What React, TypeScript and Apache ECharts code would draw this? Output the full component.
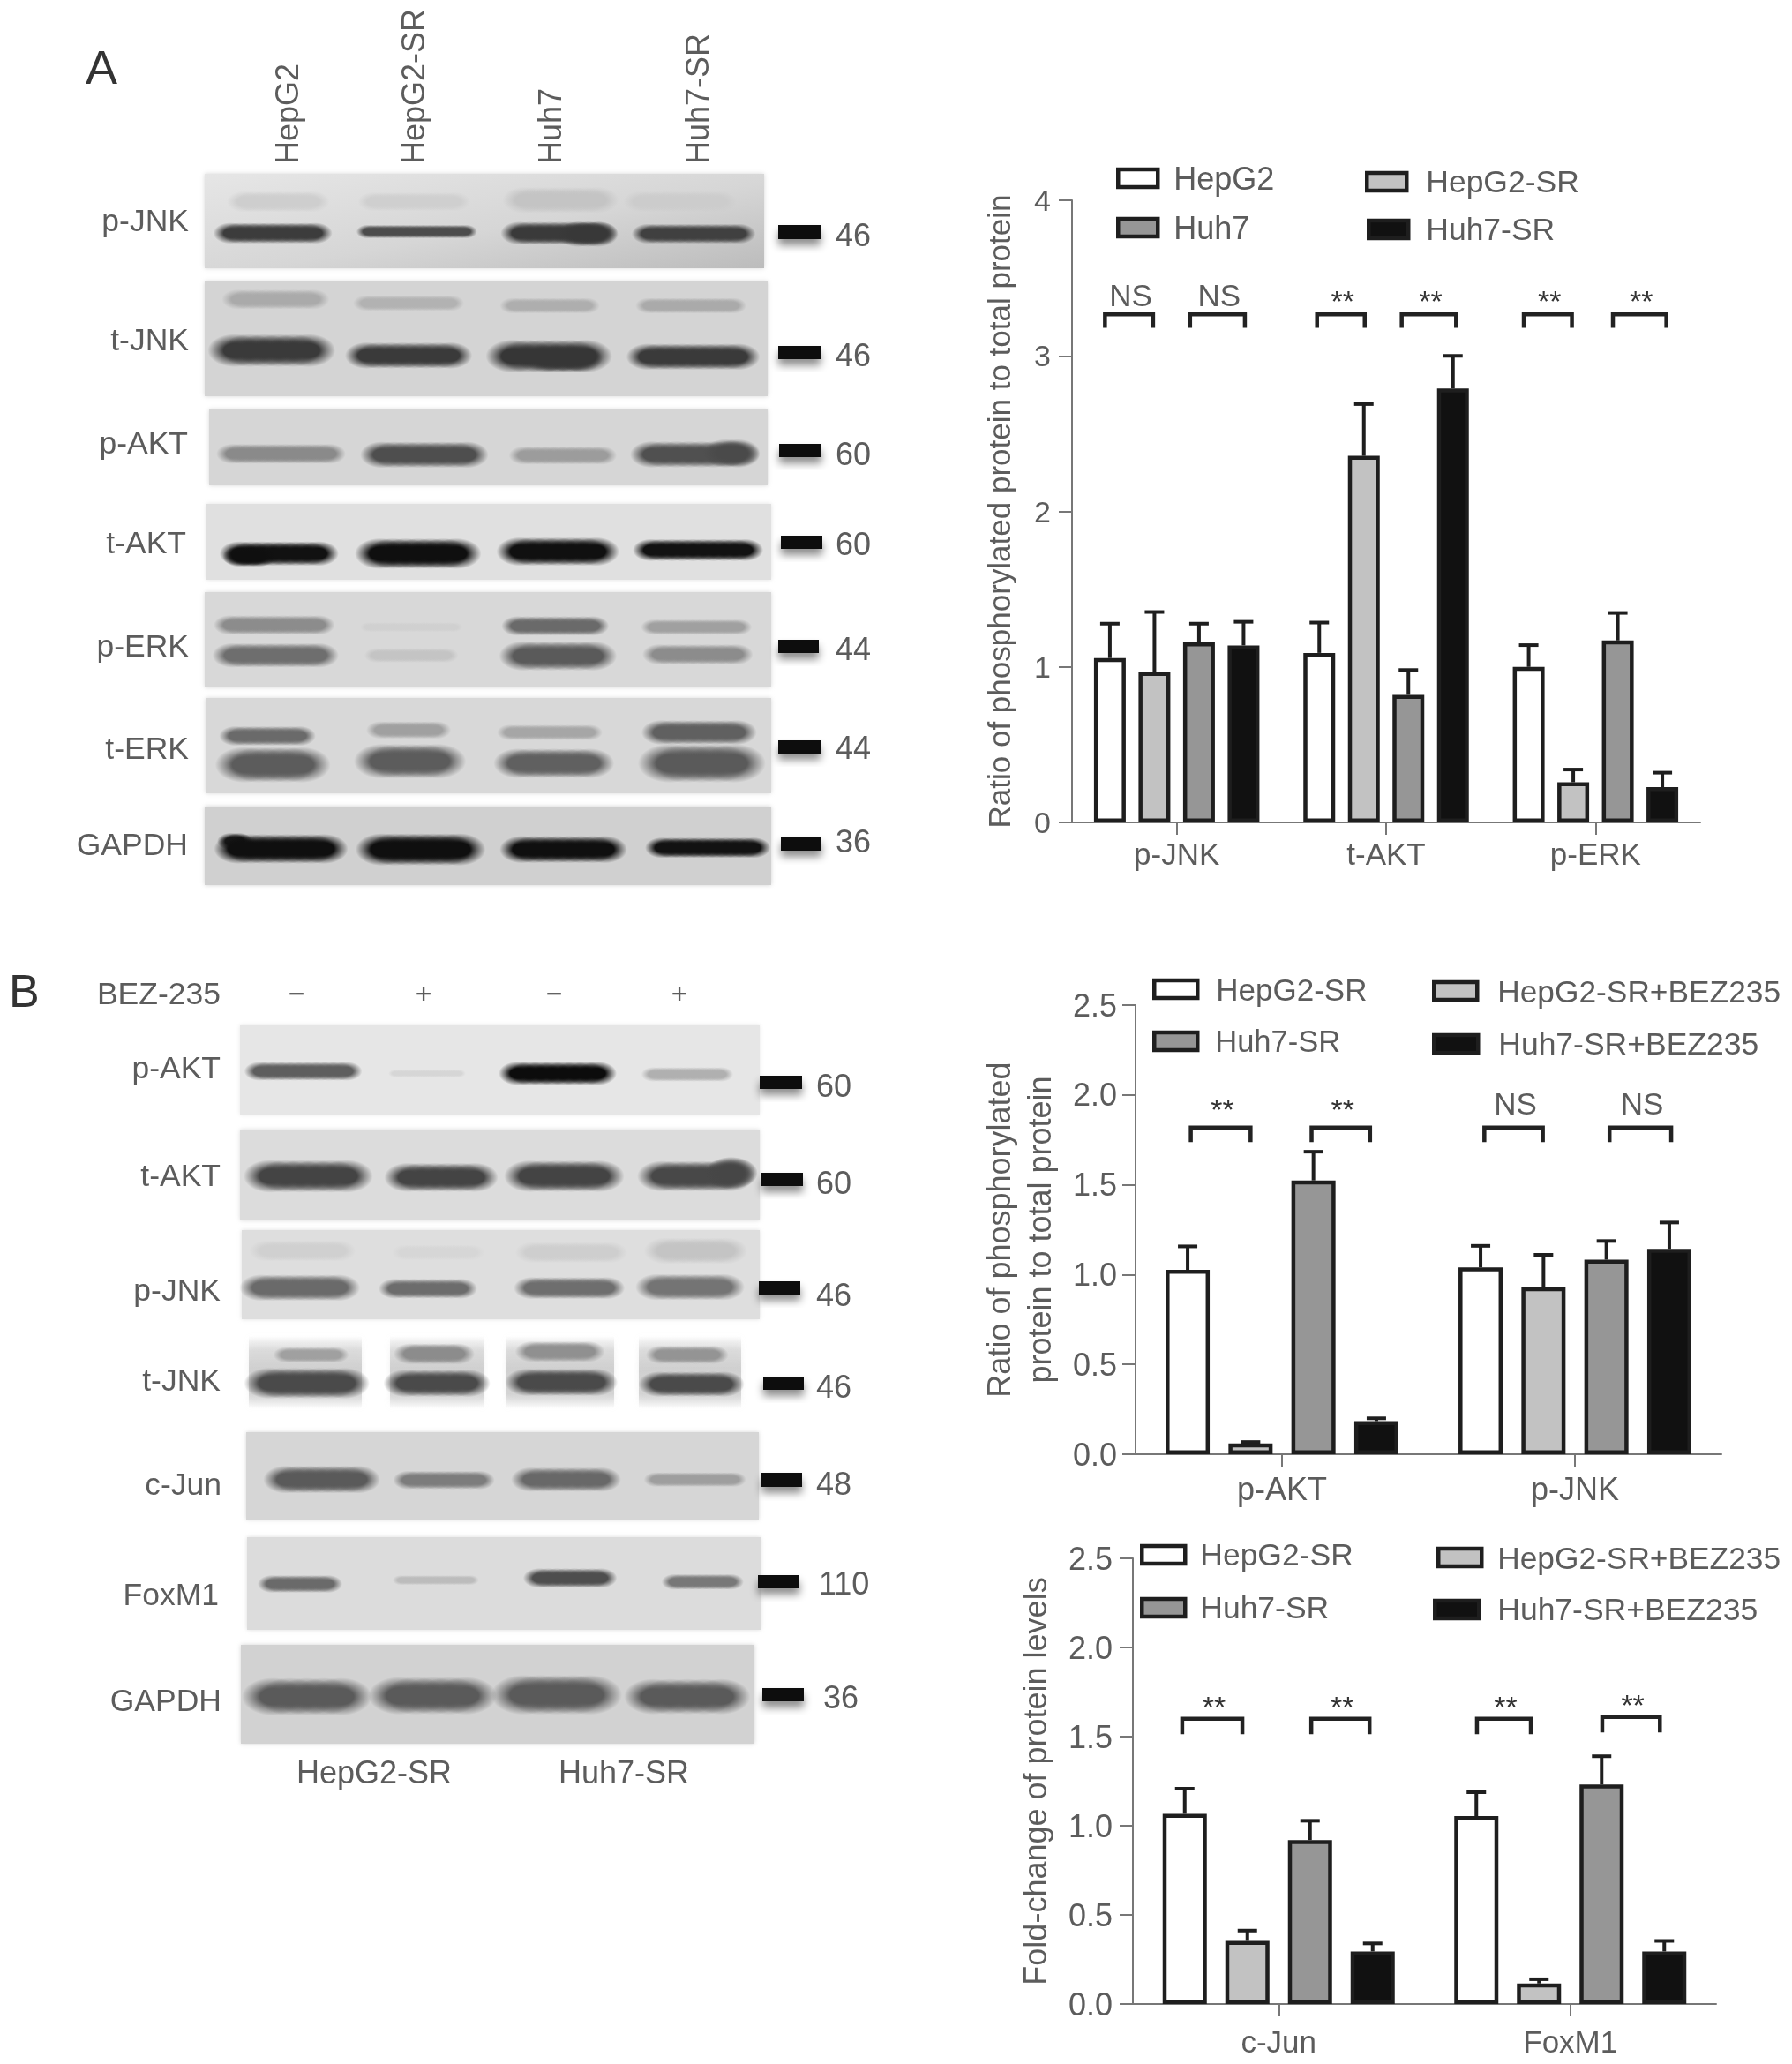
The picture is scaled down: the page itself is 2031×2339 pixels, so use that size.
import React, { useEffect, useRef } from "react";
import * as echarts from "echarts";

// ---- chart A values
const catsA = ["p-JNK", "t-AKT", "p-ERK"];
const namesA = ["HepG2", "HepG2-SR", "Huh7", "Huh7-SR"];
const hepG2A = [1.057, 1.09, 1.0];
const hepG2SrA = [0.967, 2.357, 0.258];
const huh7A = [1.157, 0.82, 1.17];
const huh7SrA = [1.138, 2.79, 0.227];
const hepG2ErrA = [1.278, 1.285, 1.14];
const hepG2SrErrA = [1.353, 2.69, 0.34];
const huh7ErrA = [1.278, 0.98, 1.347];
const huh7SrErrA = [1.29, 3.0, 0.32];

// ---- chart B1 values
const catsB1 = ["p-AKT", "p-JNK"];
const namesB = ["HepG2-SR", "HepG2-SR+BEZ235", "Huh7-SR", "Huh7-SR+BEZ235"];
const hepSrB1 = [1.026, 1.04];
const hepBezB1 = [0.06, 0.93];
const huhSrB1 = [1.524, 1.083];
const huhBezB1 = [0.184, 1.143];
const hepSrErrB1 = [1.157, 1.16];
const hepBezErrB1 = [0.068, 1.11];
const huhSrErrB1 = [1.684, 1.187];
const huhBezErrB1 = [0.2, 1.29];

// ---- chart B2 values
const catsB2 = ["c-Jun", "FoxM1"];
const hepSrB2 = [1.067, 1.054];
const hepBezB2 = [0.354, 0.115];
const huhSrB2 = [0.92, 1.231];
const huhBezB2 = [0.295, 0.295];
const hepSrErrB2 = [1.208, 1.188];
const hepBezErrB2 = [0.412, 0.139];
const huhSrErrB2 = [1.028, 1.39];
const huhBezErrB2 = [0.34, 0.354];

// ---- significance brackets: category, from and to (in bar slots from the group centre), top value, foot value, label value, label
type Br = [number, number, number, number, number, number, string];
const bracketsA: Br[] = [
  [0, -1.61, -0.53, 3.266, 3.18, 3.39, "NS"],
  [0, 0.3, 1.53, 3.266, 3.18, 3.39, "NS"],
  [1, -1.55, -0.48, 3.266, 3.18, 3.39, "**"],
  [1, 0.35, 1.57, 3.266, 3.18, 3.39, "**"],
  [2, -1.61, -0.53, 3.266, 3.18, 3.39, "**"],
  [2, 0.39, 1.59, 3.266, 3.18, 3.39, "**"],
];
const bracketsB1: Br[] = [
  [0, -1.45, -0.5, 1.818, 1.738, 1.95, "**"],
  [0, 0.47, 1.4, 1.818, 1.738, 1.95, "**"],
  [1, -1.44, -0.51, 1.818, 1.738, 1.95, "NS"],
  [1, 0.55, 1.53, 1.818, 1.738, 1.95, "NS"],
];
const bracketsB2: Br[] = [
  [0, -1.54, -0.58, 1.6, 1.513, 1.7, "**"],
  [0, 0.52, 1.45, 1.6, 1.513, 1.7, "**"],
  [1, -1.49, -0.63, 1.6, 1.513, 1.7, "**"],
  [1, 0.51, 1.43, 1.61, 1.523, 1.71, "**"],
];

// ---- western blot labels
const blotLabelsA = ["p-JNK", "t-JNK", "p-AKT", "t-AKT", "p-ERK", "t-ERK", "GAPDH"];
const blotKdA = ["46", "46", "60", "60", "44", "44", "36"];
const blotLabelsB = ["p-AKT", "t-AKT", "p-JNK", "t-JNK", "c-Jun", "FoxM1", "GAPDH"];
const blotKdB = ["60", "60", "46", "46", "48", "110", "36"];
const laneLabelsA = ["HepG2", "HepG2-SR", "Huh7", "Huh7-SR"];
const laneSignsB = ["\u2212", "+", "\u2212", "+"];

const FONT = '"Liberation Sans", Arial, sans-serif';
const TXT = "#5c5c5c";
const FILLS = ["#ffffff", "#c2c2c2", "#969696", "#111111"];
const EDGE = "#1e1e1e";

const grids = [
  { left: 1215, top: 227, width: 712, height: 705 },
  { left: 1287, top: 1139, width: 664, height: 509 },
  { left: 1284, top: 1766, width: 661, height: 505 },
];

function bars(gridIndex: number, names: string[], vals: number[][], errs: number[][], slot: number, barWidth: number, brs: Br[], starSize: number) {
  const out: any[] = [];
  names.forEach((name, s) => {
    out.push({
      type: "bar",
      name,
      xAxisIndex: gridIndex,
      yAxisIndex: gridIndex,
      data: vals[s],
      barWidth,
      barGap: `${((slot - barWidth) / barWidth) * 100}%`,
      itemStyle: { color: FILLS[s], borderColor: EDGE, borderWidth: 4.5 },
      silent: true,
      z: 3,
    });
    out.push({
      type: "custom",
      xAxisIndex: gridIndex,
      yAxisIndex: gridIndex,
      data: vals[s].map((v, i) => [i, errs[s][i], v]),
      encode: { x: 0, y: 1 },
      silent: true,
      z: 2,
      renderItem: (_p: any, api: any) => {
        const c = api.value(0);
        const top = api.coord([c, api.value(1)]);
        const base = api.coord([c, api.value(2)]);
        const x = top[0] + (s - 1.5) * slot;
        const style = { stroke: EDGE, lineWidth: 4, fill: "none" };
        return {
          type: "group",
          children: [
            { type: "line", shape: { x1: x, y1: base[1], x2: x, y2: top[1] }, style },
            { type: "line", shape: { x1: x - 11, y1: top[1], x2: x + 11, y2: top[1] }, style },
          ],
        };
      },
    });
  });
  out.push({
    type: "custom",
    xAxisIndex: gridIndex,
    yAxisIndex: gridIndex,
    data: brs.map((b) => [b[0], b[3], b[4], b[5]]),
    encode: { x: 0, y: 1 },
    silent: true,
    z: 4,
    renderItem: (p: any, api: any) => {
      const b = brs[p.dataIndex];
      const c = api.value(0);
      const top = api.coord([c, api.value(1)])[1];
      const foot = api.coord([c, api.value(2)])[1];
      const ly = api.coord([c, api.value(3)])[1];
      const cx = api.coord([c, 0])[0];
      const x0 = cx + b[1] * slot;
      const x1 = cx + b[2] * slot;
      const star = b[6] === "**";
      return {
        type: "group",
        children: [
          {
            type: "polyline",
            shape: { points: [[x0, foot], [x0, top], [x1, top], [x1, foot]] },
            style: { stroke: "#222", lineWidth: 4.5, fill: "none" },
          },
          {
            type: "text",
            style: {
              x: (x0 + x1) / 2 + 2,
              y: ly + (star ? 6 : 0),
              text: b[6],
              font: `${star ? starSize : 35}px ${FONT}`,
              fill: star ? "#333" : TXT,
              align: "center",
              verticalAlign: "middle",
            },
          },
        ],
      };
    },
  });
  return out;
}

function legendBox(name: string, color: string, left: number, cy: number, w: number, textX: number, size: number) {
  return {
    show: true,
    left: left + 2,
    top: cy - 20,
    padding: 0,
    itemWidth: w - 4,
    itemHeight: 20,
    selectedMode: false,
    icon: "rect",
    data: [{ name, itemStyle: { color, borderColor: EDGE, borderWidth: 4.5 } }],
    itemStyle: { borderColor: EDGE, borderWidth: 4.5 },
    textStyle: {
      fontFamily: FONT,
      fontSize: size,
      color: TXT,
      lineHeight: 40,
      padding: [0, 0, 0, textX - left - w - 3],
    },
  };
}

const legends = [
  legendBox("HepG2", FILLS[0], 1263, 202, 49, 1328, 36),
  legendBox("HepG2-SR", FILLS[1], 1545, 206, 49, 1614, 35.5),
  legendBox("Huh7", FILLS[2], 1263, 258, 49, 1328, 36),
  legendBox("Huh7-SR", FILLS[3], 1547, 260, 49, 1614, 35.5),
  legendBox("HepG2-SR", FILLS[0], 1304, 1121, 53, 1376, 35),
  legendBox("HepG2-SR+BEZ235", FILLS[1], 1621, 1123, 53, 1695, 35.3),
  legendBox("Huh7-SR", FILLS[2], 1304, 1180, 53, 1375, 34.5),
  legendBox("Huh7-SR+BEZ235", FILLS[3], 1621, 1183, 54, 1696, 35.5),
  legendBox("HepG2-SR", FILLS[0], 1290, 1762, 53, 1358, 35.5),
  legendBox("HepG2-SR+BEZ235", FILLS[1], 1626, 1765, 53, 1695, 35.3),
  legendBox("Huh7-SR", FILLS[2], 1290, 1822, 53, 1358, 35.5),
  legendBox("Huh7-SR+BEZ235", FILLS[3], 1622, 1824, 54, 1695, 35.5),
];

function xAxis(gridIndex: number, data: string[], margin: number, size: number) {
  return {
    type: "category",
    gridIndex,
    data,
    axisLine: { show: true, lineStyle: { color: "#777", width: 2 } },
    axisTick: { show: true, alignWithLabel: true, length: 14, lineStyle: { color: "#777", width: 2 } },
    axisLabel: { fontFamily: FONT, fontSize: size, color: TXT, margin },
  };
}
function yAxis(gridIndex: number, max: number, interval: number, name: string, nameGap: number, size: number, decimals: number, margin: number, tickSize: number) {
  return {
    type: "value",
    gridIndex,
    min: 0,
    max,
    interval,
    name,
    nameLocation: "middle",
    nameGap,
    nameRotate: 90,
    nameTextStyle: { fontFamily: FONT, fontSize: size, color: TXT, lineHeight: 46 },
    splitLine: { show: false },
    axisLine: { show: true, onZero: false, lineStyle: { color: "#777", width: 2 } },
    axisTick: { show: true, length: 15, lineStyle: { color: "#777", width: 2 } },
    axisLabel: {
      fontFamily: FONT,
      fontSize: tickSize,
      color: TXT,
      margin,
      formatter: (v: number) => v.toFixed(decimals),
    },
  };
}

// ---- drawing of the blots, in the pixel frame of each region
type Band = [number, number, number, number, number];
function band(x0: number, x1: number, cy: number, h: number, g: number): any[] {
  const rx = h * 1.4;
  const ry = h * 0.85;
  const start = x0 + rx * 0.7;
  const end = Math.max(x1 - rx * 0.7, start);
  const n = Math.max(1, Math.ceil((end - start) / (h * 0.8)));
  const fill = new echarts.graphic.RadialGradient(0.5, 0.5, 0.5, [
    { offset: 0, color: `rgba(${g},${g},${g},1)` },
    { offset: 0.42, color: `rgba(${g},${g},${g},1)` },
    { offset: 0.7, color: `rgba(${g},${g},${g},0.5)` },
    { offset: 1, color: `rgba(${g},${g},${g},0)` },
  ]);
  const out: any[] = [];
  for (let i = 0; i <= n; i++) {
    out.push({ type: "ellipse", silent: true, shape: { cx: start + ((end - start) * i) / n, cy, rx, ry }, style: { fill } });
  }
  return out;
}
function panel(x0: number, y0: number, x1: number, y1: number, g: number, fill?: any) {
  const c = `rgb(${g},${g},${g})`;
  return { type: "rect", silent: true, shape: { x: x0, y: y0, width: x1 - x0, height: y1 - y0 }, style: { fill: fill || c, shadowBlur: 5, shadowColor: c } };
}
function smear(x0: number, y0: number, x1: number, y1: number, g: number) {
  const c = (a: number) => `rgba(${g},${g},${g},${a})`;
  return {
    type: "rect",
    silent: true,
    shape: { x: x0, y: y0, width: x1 - x0, height: y1 - y0 },
    style: {
      fill: new echarts.graphic.LinearGradient(0, 0, 0, 1, [
        { offset: 0, color: c(0) },
        { offset: 0.2, color: c(0.7) },
        { offset: 0.45, color: c(1) },
        { offset: 0.8, color: c(0.9) },
        { offset: 1, color: c(0) },
      ]),
      shadowBlur: 6,
      shadowColor: c(0.35),
    },
  };
}
type Frame = { ox: number; oy: number; kx: number; ky: number };
const F4: Frame = { ox: 60, oy: 0, kx: 1.625, ky: 2.8 };
const F5: Frame = { ox: 60, oy: 540, kx: 1.625, ky: 3 };
const F6: Frame = { ox: 0, oy: 1080, kx: 1.56, ky: 2.8 };
const F7: Frame = { ox: 60, oy: 1600, kx: 1.625, ky: 3 };
const bandsIn = (f: Frame, list: Band[]) =>
  list.flatMap((b) => band(f.ox + b[0] / f.kx, f.ox + b[1] / f.kx, f.oy + b[2] / f.ky, b[3] / f.ky, b[4]));

const BANDS_4: Band[] = [
  [330, 500, 640, 40, 206], [570, 760, 640, 36, 207], [840, 1030, 635, 50, 196], [1060, 1250, 640, 40, 204],
  [305, 505, 740, 40, 60], [565, 775, 735, 26, 76], [835, 1030, 740, 44, 58], [940, 1030, 743, 48, 56], [1075, 1285, 742, 38, 64],
  [320, 500, 950, 38, 170], [560, 750, 962, 30, 178], [830, 1000, 970, 30, 174], [1080, 1270, 970, 30, 170],
  [300, 505, 1112, 62, 58], [550, 760, 1128, 50, 58], [812, 1015, 1130, 62, 54], [880, 1000, 1138, 50, 54], [1068, 1290, 1132, 50, 58],
  [310, 530, 1440, 38, 138], [578, 790, 1443, 50, 78], [848, 1030, 1445, 35, 156], [1075, 1290, 1442, 50, 80], [1210, 1290, 1437, 52, 74],
];
const BANDS_5: Band[] = [
  [318, 515, 262, 50, 17], [322, 400, 272, 42, 15], [570, 775, 262, 62, 15], [830, 1030, 255, 58, 16], [1078, 1298, 250, 45, 18],
  [305, 510, 505, 40, 140], [570, 750, 512, 20, 208], [835, 1015, 508, 40, 106], [1090, 1280, 512, 32, 160],
  [305, 515, 608, 50, 110], [580, 740, 608, 30, 196], [835, 1025, 610, 60, 90], [1095, 1280, 605, 42, 140],
  [315, 475, 882, 40, 106], [585, 725, 862, 36, 160], [825, 1005, 870, 32, 166], [1095, 1285, 870, 50, 96],
  [315, 495, 980, 72, 92], [570, 745, 968, 70, 92], [825, 1020, 975, 60, 96], [1095, 1295, 975, 78, 90],
  [310, 360, 1240, 34, 26], [310, 530, 1266, 60, 15], [572, 782, 1268, 65, 15], [835, 1045, 1268, 55, 15], [1100, 1312, 1262, 42, 18],
];
const BANDS_6: Band[] = [
  [440, 632, 375, 36, 94], [690, 820, 382, 15, 214], [892, 1080, 382, 45, 12], [1140, 1290, 385, 28, 176],
  [445, 645, 708, 62, 68], [692, 868, 712, 55, 68], [905, 1090, 708, 60, 68], [1140, 1320, 708, 58, 72], [1260, 1320, 698, 60, 70],
  [450, 620, 945, 40, 208], [700, 850, 950, 30, 214], [920, 1100, 950, 40, 206], [1150, 1310, 945, 50, 196],
  [435, 625, 1062, 50, 106], [678, 835, 1065, 38, 108], [918, 1095, 1063, 42, 110], [1135, 1305, 1060, 50, 116],
  [490, 610, 1275, 30, 160], [705, 830, 1272, 40, 140], [920, 1060, 1265, 40, 144], [1150, 1280, 1275, 35, 148],
  [445, 640, 1365, 58, 74], [690, 855, 1365, 52, 74], [905, 1080, 1362, 52, 74], [1140, 1305, 1368, 48, 74],
];
const BANDS_7: Band[] = [
  [400, 590, 230, 56, 90], [635, 805, 232, 38, 124], [855, 1035, 230, 50, 104], [1095, 1270, 230, 30, 158],
  [385, 525, 585, 36, 106], [630, 780, 572, 20, 188], [875, 1030, 565, 40, 78], [1128, 1265, 578, 32, 120],
  [365, 570, 968, 76, 90], [598, 800, 965, 76, 90], [825, 1030, 962, 80, 90], [1068, 1268, 968, 72, 90],
];

const text = (t: string, x: number, y: number, size: number, align: string, extra: any = {}) => ({
  type: "text",
  silent: true,
  x,
  y,
  ...extra,
  style: { text: t, font: `${size}px ${FONT}`, fill: extra.fill || TXT, align, verticalAlign: "middle" },
});
const marker = (x0: number, y0: number, x1: number, y1: number) => ({
  type: "rect",
  silent: true,
  shape: { x: x0, y: y0, width: x1 - x0, height: y1 - y0 },
  style: { fill: "#0a0a0a", shadowBlur: 10, shadowColor: "rgba(0,0,0,0.45)", shadowOffsetY: 7 },
});

function blotGraphics(): any[] {
  const pJnkGrad = new echarts.graphic.LinearGradient(0, 0, 1, 1, [
    { offset: 0, color: "#e6e6e6" },
    { offset: 0.55, color: "#d6d6d6" },
    { offset: 1, color: "#bcbcbc" },
  ]);
  const g: any[] = [
    panel(232, 197, 866, 304, 214, pJnkGrad),
    panel(232, 319, 870, 449, 212),
    panel(237, 464, 870, 550, 214),
    panel(234, 571, 874, 657, 224),
    panel(232, 671, 874, 779, 216),
    panel(233, 791, 874, 899, 216),
    panel(232, 914, 874, 1003, 208),
    panel(272, 1162, 861, 1263, 230),
    panel(272, 1280, 861, 1383, 220),
    panel(274, 1394, 861, 1495, 222),
    smear(282, 1514, 410, 1596, 208),
    smear(442, 1514, 548, 1596, 208),
    smear(574, 1514, 696, 1596, 208),
    smear(724, 1514, 840, 1596, 208),
    panel(279, 1623, 860, 1722, 214),
    panel(280, 1742, 862, 1847, 220),
    panel(273, 1864, 855, 1976, 210),
    ...bandsIn(F4, BANDS_4),
    ...bandsIn(F5, BANDS_5),
    ...bandsIn(F6, BANDS_6),
    ...bandsIn(F7, BANDS_7),
  ];
  // panel A labels and size markers
  const labelA: [number, number][] = [[214, 250], [214, 385], [213, 502], [211, 615], [214, 732], [214, 848], [213, 957]];
  labelA.forEach((p, i) => g.push(text(blotLabelsA[i], p[0], p[1], 35.5, "right")));
  const markA = [[882, 255, 930, 271], [882, 392, 930, 407], [883, 503, 931, 518], [885, 607, 932, 622], [882, 725, 928, 740], [882, 839, 930, 854], [885, 948, 931, 964]];
  const kdYA = [266, 402, 514, 616, 735, 847, 953];
  markA.forEach((m, i) => {
    g.push(marker(m[0], m[1], m[2], m[3]));
    g.push(text(blotKdA[i], 947, kdYA[i], 36, "left"));
  });
  const laneX = [325, 468, 623, 790];
  laneLabelsA.forEach((t, i) => g.push(text(t, laneX[i], 186, 36, "left", { rotation: Math.PI / 2 })));
  g.push(text("A", 97, 76, 54, "left", { fill: "#333" }));

  // panel B labels and size markers
  g.push(text("B", 10, 1123, 52, "left", { fill: "#333" }));
  g.push(text("BEZ-235", 250, 1126, 35.5, "right"));
  const signX = [336, 480, 628, 770];
  laneSignsB.forEach((t, i) => g.push(text(t, signX[i], 1126, 32, "center")));
  const labelB: [number, number][] = [[250, 1210], [250, 1332], [250, 1462], [250, 1564], [251, 1682], [248, 1807], [251, 1927]];
  labelB.forEach((p, i) => g.push(text(blotLabelsB[i], p[0], p[1], 35.5, "right")));
  const markB = [[861, 1219, 909, 1234], [863, 1329, 910, 1344], [860, 1452, 907, 1467], [865, 1560, 911, 1575], [863, 1669, 909, 1685], [859, 1785, 906, 1800], [864, 1913, 911, 1928]];
  const kdB: [number, number][] = [[925, 1230], [925, 1340], [925, 1467], [925, 1571], [925, 1681], [928, 1794], [933, 1923]];
  markB.forEach((m, i) => {
    g.push(marker(m[0], m[1], m[2], m[3]));
    g.push(text(blotKdB[i], kdB[i][0], kdB[i][1], 36, "left"));
  });
  g.push(text("HepG2-SR", 424, 2008, 36, "center"));
  g.push(text("Huh7-SR", 707, 2008, 36, "center"));
  return g;
}

export default function App() {
  const ref = useRef<HTMLDivElement>(null);
  useEffect(() => {
    document.body.style.margin = "0";
    document.body.style.background = "#fff";
    const chart = echarts.init(ref.current!, undefined, { renderer: "svg" });
    chart.setOption({
      animation: false,
      backgroundColor: "#ffffff",
      textStyle: { fontFamily: FONT },
      legend: legends,
      grid: grids.map((g) => ({ ...g, containLabel: false, outerBoundsMode: "none" })),
      xAxis: [xAxis(0, catsA, 18, 35), xAxis(1, catsB1, 21, 36), xAxis(2, catsB2, 25, 35)],
      yAxis: [
        yAxis(0, 4, 1, "Ratio of phosphorylated protein to total protein", 60, 35, 0, 24, 34),
        yAxis(1, 2.5, 0.5, "Ratio of phosphorylated\nprotein to total protein", 86, 36, 1, 21, 36),
        yAxis(2, 2.5, 0.5, "Fold-change of protein levels", 88, 36, 1, 23, 36),
      ],
      series: [
        ...bars(0, namesA, [hepG2A, hepG2SrA, huh7A, huh7SrA], [hepG2ErrA, hepG2SrErrA, huh7ErrA, huh7SrErrA], 50.5, 36, bracketsA, 34),
        ...bars(1, namesB, [hepSrB1, hepBezB1, huhSrB1, huhBezB1], [hepSrErrB1, hepBezErrB1, huhSrErrB1, huhBezErrB1], 71.3, 50, bracketsB1, 34),
        ...bars(2, namesB, [hepSrB2, hepBezB2, huhSrB2, huhBezB2], [hepSrErrB2, hepBezErrB2, huhSrErrB2, huhBezErrB2], 71, 50, bracketsB2, 34),
      ],
      graphic: { elements: blotGraphics() },
    });
    return () => chart.dispose();
  }, []);
  return (
    <div
      ref={ref}
      style={{ position: "absolute", left: 0, top: 0, width: 2031, height: 2339, filter: "blur(0.6px)" }}
    />
  );
}
